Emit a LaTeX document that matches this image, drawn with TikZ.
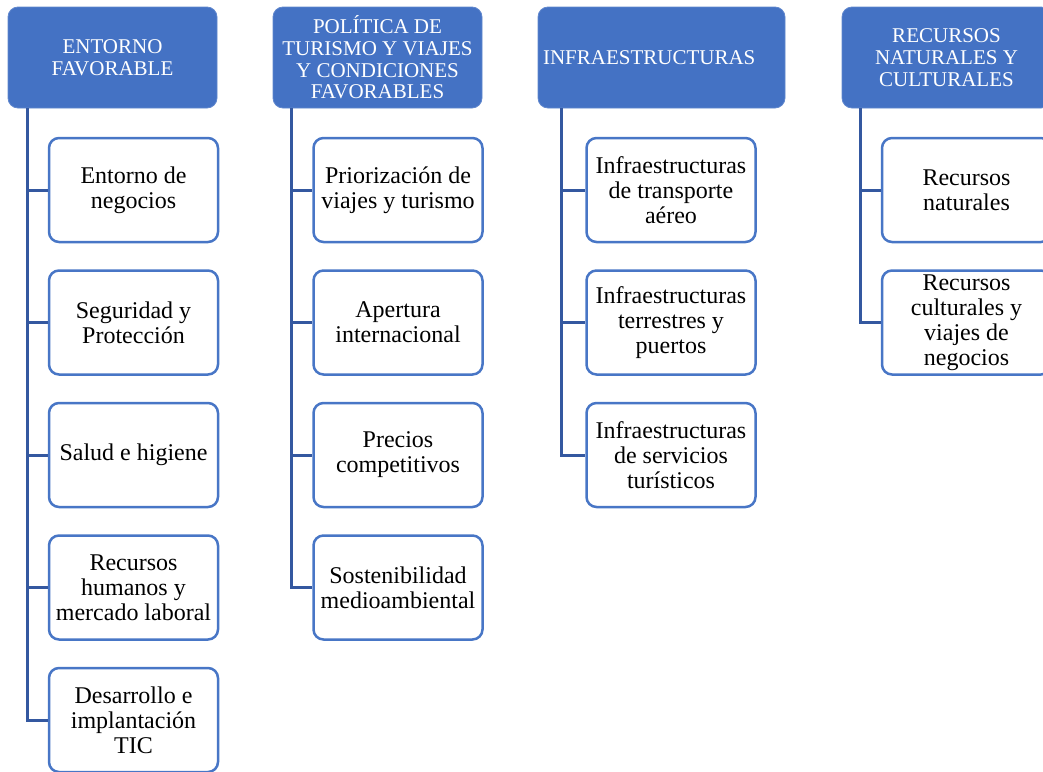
\documentclass[tikz,border=0pt]{standalone}
\usepackage{fontspec}
\setmainfont{Liberation Serif}
\definecolor{headblue}{RGB}{68, 114, 196}
\definecolor{edgeblue}{RGB}{72, 118, 198}
\definecolor{linkblue}{RGB}{52, 88, 160}
\tikzset{
  header/.style={fill=headblue, draw=headblue!85!white, line width=0.8pt, rounded corners=10pt,
                 minimum width=209pt, minimum height=101pt, inner sep=2pt,
                 text=white, align=center, font=\fontsize{21}{21.7}\selectfont},
  item/.style={draw=edgeblue, fill=white, line width=2.5pt, rounded corners=10pt,
               minimum width=169pt, minimum height=104pt, inner sep=2pt,
               align=center, font=\fontsize{24}{25}\selectfont},
  link/.style={draw=linkblue, line width=3pt}
}
\begin{document}
\begin{tikzpicture}[x=1pt, y=-1pt]
            \useasboundingbox (0,0) rectangle (1043,771);
            % headers
            \node[header] (hA) at (112.5, 57.5) {ENTORNO\\FAVORABLE};
            \node[header] (hB) at (377.5, 57.5) {POLÍTICA DE\\TURISMO Y VIAJES\\Y CONDICIONES\\FAVORABLES};
            \node[header, minimum width=247pt, text width=237pt, inner xsep=5pt, align=left] (hC) at (661.5, 57.5) {INFRAESTRUCTURAS};
            \node[header] (hD) at (946.5, 57.5) {RECURSOS\\NATURALES Y\\CULTURALES};
            % column A
            \node[item] (a1) at (133.5, 190.0) {Entorno de\\negocios};
            \node[item] (a2) at (133.5, 322.5) {Seguridad y\\Protección};
            \node[item] (a3) at (133.5, 455.0) {Salud e higiene};
            \node[item] (a4) at (133.5, 587.5) {Recursos\\humanos y\\mercado laboral};
            \node[item] (a5) at (133.5, 720.0) {Desarrollo e\\implantación\\TIC};
            % column B
            \node[item] (b1) at (398.0, 190.0) {Priorización de\\viajes y turismo};
            \node[item] (b2) at (398.0, 322.5) {Apertura\\internacional};
            \node[item] (b3) at (398.0, 455.0) {Precios\\competitivos};
            \node[item] (b4) at (398.0, 587.5) {Sostenibilidad\\medioambiental};
            % column C
            \node[item] (c1) at (671.0, 190.0) {Infraestructuras\\de transporte\\aéreo};
            \node[item] (c2) at (671.0, 322.5) {Infraestructuras\\terrestres y\\puertos};
            \node[item] (c3) at (671.0, 455.0) {Infraestructuras\\de servicios\\turísticos};
            % column D
            \node[item] (d1) at (966.5, 190.0) {Recursos\\naturales};
            \node[item] (d2) at (966.5, 322.5) {Recursos\\culturales y\\viajes de\\negocios};
            % links
            \foreach \i in {1,...,5} \draw[link] (hA.south west) ++(20,0) |- (a\i.west);
            \foreach \i in {1,...,4} \draw[link] (hB.south west) ++(19,0) |- (b\i.west);
            \foreach \i in {1,...,3} \draw[link] (hC.south west) ++(24,0) |- (c\i.west);
            \foreach \i in {1,2}     \draw[link] (hD.south west) ++(19,0) |- (d\i.west);
\end{tikzpicture}
\end{document}
